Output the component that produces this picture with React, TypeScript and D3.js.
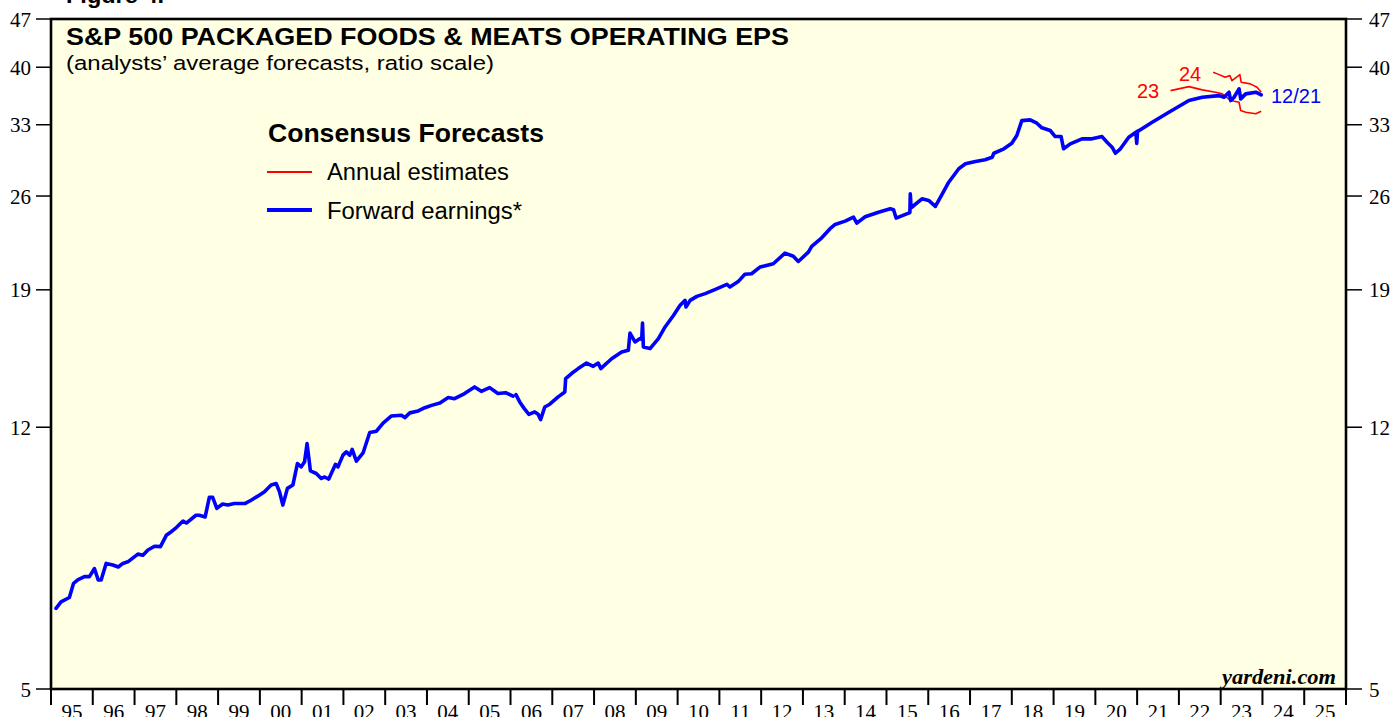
import React from "react";
import * as d3 from "d3";

// ---- Data ----
// Forward earnings (decimal year, EPS in $); null marks a gap in the series
const fwdYears: number[] = [
  1995.12, 1995.24, 1995.44, 1995.54, 1995.64, 1995.8, 1995.92, 1996.04, 1996.13, 1996.2,
  1996.32, 1996.48, 1996.61, 1996.72, 1996.84, 1997.08, 1997.2, 1997.32, 1997.48, 1997.62,
  1997.76, 1997.88, 1998.0, 1998.16, 1998.24, 1998.47, 1998.55, 1998.69, 1998.79, 1998.87,
  1998.97, 1999.11, 1999.23, 1999.39, 1999.65, 1999.79, 1999.95, 2000.11, 2000.27, 2000.39,
  2000.47, 2000.55, 2000.66, 2000.79, 2000.9, 2000.99, 2001.07, 2001.13, 2001.21, 2001.35,
  2001.47, 2001.55, 2001.65, 2001.81, 2001.87, 2001.99, 2002.07, 2002.15, 2002.21, 2002.31,
  2002.47, 2002.63, 2002.79, 2002.95, 2003.15, 2003.39, 2003.47, 2003.59, 2003.79, 2003.95,
  2004.11, 2004.31, 2004.51, 2004.66, 2004.9, 2005.14, 2005.3, 2005.5, 2005.7, 2005.88,
  2006.06, 2006.1, 2006.13, 2006.22, 2006.33, 2006.44, 2006.58, 2006.66, 2006.72, 2006.82,
  2006.94, 2007.14, 2007.3, 2007.32, 2007.46, 2007.62, 2007.82, 2007.98, 2008.1, 2008.16,
  2008.42, 2008.66, 2008.82, 2008.86, 2008.98, 2009.1, 2009.14, 2009.16, 2009.18, 2009.34,
  2009.54, 2009.7, 2009.9, 2010.06, 2010.18, 2010.2, 2010.3, 2010.46, 2010.66, 2010.89,
  2011.18, 2011.25, 2011.46, 2011.61, 2011.77, 2011.97, 2012.29, 2012.57, 2012.77, 2012.89,
  2013.13, 2013.21, 2013.45, 2013.65, 2013.77, 2014.01, 2014.21, 2014.29, 2014.49, 2014.81,
  2015.09, 2015.17, 2015.23, 2015.53, 2015.56, 2015.57, 2015.59, 2015.85, 2016.01, 2016.17,
  2016.33, 2016.49, 2016.73, 2016.89, 2017.13, 2017.36, 2017.53, 2017.57, 2017.81, 2018.0,
  2018.12, 2018.24, 2018.44, 2018.6, 2018.72, 2018.92, 2019.04, 2019.18, 2019.24, 2019.4,
  2019.68, 2019.92, 2020.16, 2020.28, 2020.4, 2020.48, 2020.6, 2020.8, 2020.97, 2020.99,
  2021.01, 2021.05, 2021.36, 2021.76, 2022.24, 2022.56, 2022.96, 2023.08, 2023.2, 2023.24,
  2023.32, 2023.44, 2023.48, 2023.6, 2023.84, 2023.97,
];
const fwdValues: (number | null)[] = [
  6.55, 6.69, 6.79, 7.12, 7.2, 7.28, 7.28, 7.48, 7.2, 7.2,
  7.61, 7.57, 7.52, 7.61, 7.65, 7.85, 7.82, 7.96, 8.06, 8.05,
  8.36, 8.46, 8.58, 8.77, 8.71, 8.94, 8.94, 8.89, 9.49, 9.49,
  9.15, 9.28, 9.25, 9.3, 9.3, 9.4, 9.53, 9.67, 9.89, 9.94,
  9.67, 9.25, 9.78, 9.89, 10.63, 10.51, 10.69, 11.36, 10.37, 10.28,
  10.11, 10.16, 10.09, 10.6, 10.51, 10.93, 11.05, 10.93, 11.14, 10.71,
  11.01, 11.79, 11.84, 12.17, 12.46, 12.49, 12.39, 12.59, 12.67, 12.81,
  12.91, 13.01, 13.25, 13.2, 13.43, 13.73, 13.53, 13.7, 13.43, 13.47,
  13.31, null, 13.38, 13.06, 12.77, 12.53, 12.63, 12.53, 12.31, 12.84,
  12.96, 13.28, 13.5, 14.12, 14.36, 14.6, 14.87, 14.71, 14.87, 14.6,
  15.09, 15.43, 15.52, 16.44, 15.96, 16.14, 16.1, 17.0, 15.69, 15.61,
  16.14, 16.78, 17.44, 18.04, 18.34, 17.94, 18.34, 18.59, 18.76, 19.01,
  19.35, 19.18, 19.56, 20.01, 20.05, 20.5, 20.73, 21.48, 21.26, 20.89,
  21.55, 21.97, 22.61, 23.31, 23.64, 23.91, 24.23, 23.75, 24.26, 24.63,
  24.91, 24.83, 24.15, 24.55, 24.6, 26.2, 25.0, 25.76, 25.62, 25.11,
  26.14, 27.23, 28.48, 28.96, 29.18, 29.35, 29.6, 30.0, 30.45, 31.02,
  31.83, 33.46, 33.54, 33.17, 32.66, 32.37, 31.72, 31.72, 30.45, 30.96,
  31.48, 31.48, 31.72, 31.12, 30.61, 30.0, 30.45, 31.65, 32.18, 31.0,
  32.3, 32.37, 33.28, 34.41, 35.78, 36.18, 36.38, 36.18, 36.79, 35.78,
  36.18, 37.21, 35.98, 36.59, 36.79, 36.47,
];

// Annual estimates
const est23Years: number[] = [2021.8, 2022.24, 2022.56, 2022.88, 2023.04, 2023.24, 2023.44, 2023.48, 2023.6, 2023.84, 2023.97];
const est23Values: number[] = [36.99, 37.49, 37.08, 36.79, 36.59, 35.78, 35.58, 34.6, 34.41, 34.23, 34.52];
const est24Years: number[] = [2022.82, 2022.92, 2023.11, 2023.22, 2023.27, 2023.46, 2023.49, 2023.71, 2023.87, 2023.97];
const est24Values: number[] = [39.33, 39.12, 38.68, 38.9, 38.25, 39.03, 38.04, 37.83, 37.41, 36.79];

const yTicks: number[] = [5, 12, 19, 26, 33, 40, 47];
const yearLabels: string[] = [
  "95", "96", "97", "98", "99", "00", "01", "02", "03", "04", "05", "06", "07", "08", "09", "10",
  "11", "12", "13", "14", "15", "16", "17", "18", "19", "20", "21", "22", "23", "24", "25",
];
const firstYear = 1995;

// ---- Layout ----
const W = 1392;
const H = 717;
const L = 51;
const R = 1346;
const T = 19;
const B = 689;

const SANS = "'Liberation Sans', Arial, sans-serif";
const SERIF = "'Liberation Serif', 'Times New Roman', serif";

export default function App() {
  const x = d3.scaleLinear().domain([firstYear, firstYear + yearLabels.length]).range([L, R]);
  const y = d3.scaleLog().domain([5, 47]).range([B, T]);

  type P = { t: number; v: number | null };
  const line = d3
    .line<P>()
    .defined((d) => d.v !== null)
    .x((d) => x(d.t))
    .y((d) => y(d.v as number));

  const fwd: P[] = fwdYears.map((t, i) => ({ t, v: fwdValues[i] }));
  const e23: P[] = est23Years.map((t, i) => ({ t, v: est23Values[i] }));
  const e24: P[] = est24Years.map((t, i) => ({ t, v: est24Values[i] }));

  const yearBounds = d3.range(firstYear, firstYear + yearLabels.length + 1);

  return (
    <svg
      width={W}
      height={H}
      style={{ position: "absolute", left: 0, top: 0, background: "#ffffff" }}
    >
      <rect x={0} y={0} width={W} height={H} fill="#ffffff" />
      {/* Figure label, cut at top */}
      <text x={66} y={3} fontFamily={SANS} fontWeight="bold" fontSize={22} textLength={98} lengthAdjust="spacingAndGlyphs">
        Figure 4.
      </text>

      {/* plot background */}
      <rect x={L} y={T} width={R - L} height={B - T} fill="#ffffe3" />

      {/* y ticks and labels */}
      {yTicks.map((v) => (
        <g key={v}>
          <line x1={36} x2={L} y1={y(v)} y2={y(v)} stroke="#000" strokeWidth={1.5} />
          <line x1={R} x2={R + 16} y1={y(v)} y2={y(v)} stroke="#000" strokeWidth={1.5} />
          <text x={31} y={y(v)} dy="0.36em" textAnchor="end" fontFamily={SERIF} fontSize={21}>
            {v}
          </text>
          <text x={R + 23} y={y(v)} dy="0.36em" textAnchor="start" fontFamily={SERIF} fontSize={21}>
            {v}
          </text>
        </g>
      ))}

      {/* x ticks and labels */}
      {yearBounds.map((yr) => (
        <line key={"t" + yr} x1={x(yr)} x2={x(yr)} y1={B} y2={B + 16} stroke="#000" strokeWidth={2} />
      ))}
      {yearLabels.map((lab, i) => (
        <text
          key={"l" + lab}
          x={x(firstYear + i + 0.5)}
          y={719}
          textAnchor="middle"
          fontFamily={SERIF}
          fontSize={21}
        >
          {lab}
        </text>
      ))}

      {/* series */}
      <path d={line(e23) || ""} fill="none" stroke="#ff0000" strokeWidth={1.6} strokeLinejoin="round" />
      <path d={line(e24) || ""} fill="none" stroke="#ff0000" strokeWidth={1.6} strokeLinejoin="round" />
      <path d={line(fwd) || ""} fill="none" stroke="#0000ff" strokeWidth={3.6} strokeLinejoin="round" strokeLinecap="round" />

      {/* frame */}
      <rect x={L} y={T} width={R - L} height={B - T} fill="none" stroke="#000" strokeWidth={2.6} />

      {/* titles */}
      <text x={66} y={45} fontFamily={SANS} fontWeight="bold" fontSize={23} textLength={723} lengthAdjust="spacingAndGlyphs">
        S&amp;P 500 PACKAGED FOODS &amp; MEATS OPERATING EPS
      </text>
      <text x={66} y={70} fontFamily={SANS} fontSize={20.5} textLength={428} lengthAdjust="spacingAndGlyphs">
        (analysts’ average forecasts, ratio scale)
      </text>

      {/* legend */}
      <text x={268} y={142} fontFamily={SANS} fontWeight="bold" fontSize={25} textLength={276} lengthAdjust="spacingAndGlyphs">
        Consensus Forecasts
      </text>
      <line x1={267} x2={312} y1={172} y2={172} stroke="#ff0000" strokeWidth={1.8} />
      <text x={327} y={180} fontFamily={SANS} fontSize={23.5} textLength={182} lengthAdjust="spacingAndGlyphs">
        Annual estimates
      </text>
      <line x1={267} x2={312} y1={210} y2={210} stroke="#0000ff" strokeWidth={4} />
      <text x={327} y={219} fontFamily={SANS} fontSize={23.5} textLength={195} lengthAdjust="spacingAndGlyphs">
        Forward earnings*
      </text>

      {/* annotations */}
      <text x={1137} y={98} fontFamily={SANS} fontSize={20} fill="#ff0000">
        23
      </text>
      <text x={1179} y={81} fontFamily={SANS} fontSize={20} fill="#ff0000">
        24
      </text>
      <text x={1271} y={103} fontFamily={SANS} fontSize={20} fill="#0000ff">
        12/21
      </text>

      <text x={1336} y={684} textAnchor="end" fontFamily={SERIF} fontWeight="bold" fontStyle="italic" fontSize={21} textLength={114} lengthAdjust="spacingAndGlyphs">
        yardeni.com
      </text>
    </svg>
  );
}
